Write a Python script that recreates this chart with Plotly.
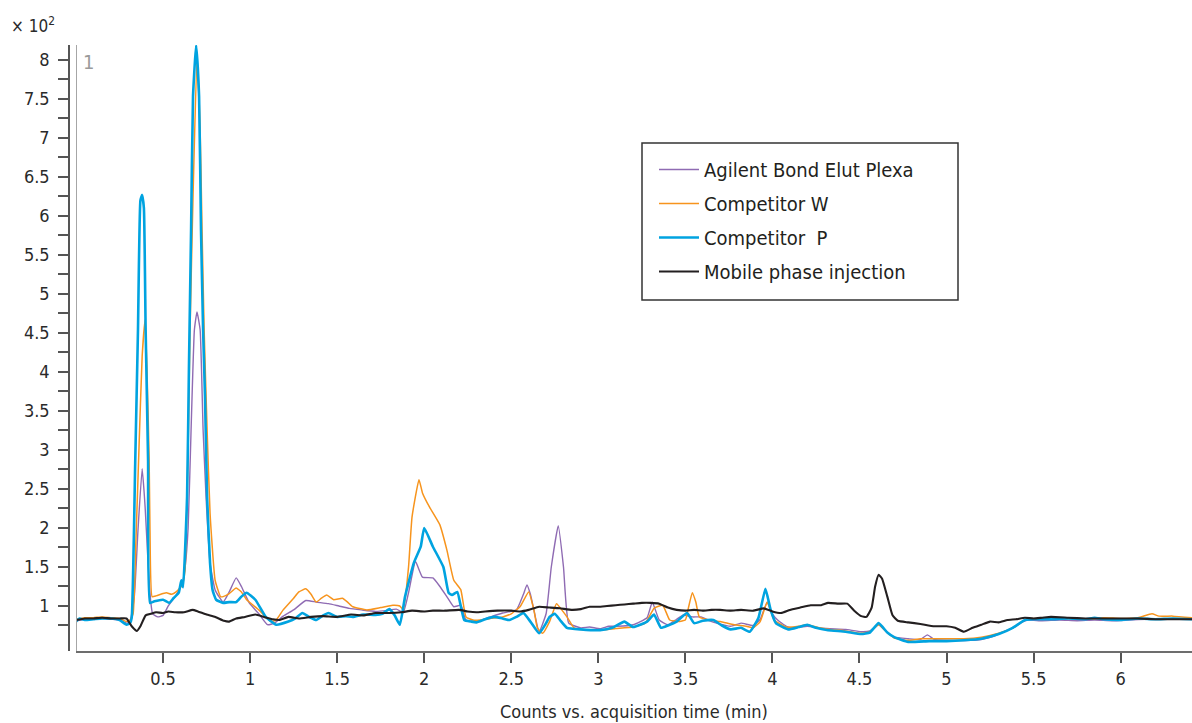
import plotly.graph_objects as go

# Retention time (min) and response (x10^2 counts) for each extract
t_plexa = [0.00, 0.05, 0.10, 0.15, 0.20, 0.25, 0.29, 0.31, 0.335, 0.356, 0.38, 0.397, 0.414, 0.43, 0.44, 0.47,
           0.50, 0.53, 0.575, 0.61, 0.627, 0.644, 0.661, 0.68, 0.695, 0.713, 0.73, 0.747, 0.77, 0.80, 0.845,
           0.88, 0.92, 0.95, 0.995, 1.05, 1.10, 1.14, 1.19, 1.25, 1.32, 1.38, 1.45, 1.51, 1.57, 1.64, 1.72,
           1.78, 1.84, 1.88, 1.91, 1.95, 1.99, 2.05, 2.09, 2.13, 2.17, 2.21, 2.24, 2.30, 2.38, 2.45, 2.53,
           2.57, 2.59, 2.61, 2.63, 2.66, 2.70, 2.73, 2.77, 2.80, 2.83, 2.90, 2.95, 3.01, 3.06, 3.11, 3.20,
           3.28, 3.31, 3.35, 3.40, 3.45, 3.49, 3.54, 3.59, 3.64, 3.68, 3.76, 3.82, 3.89, 3.93, 3.97, 4.00,
           4.03, 4.08, 4.12, 4.20, 4.27, 4.33, 4.42, 4.51, 4.56, 4.61, 4.66, 4.70, 4.78, 4.85, 4.89, 4.93,
           5.00, 5.14, 5.20, 5.27, 5.33, 5.39, 5.44, 5.47, 5.55, 5.65, 5.75, 5.85, 5.95, 6.05, 6.15, 6.25,
           6.35, 6.41]
y_plexa = [0.81, 0.83, 0.84, 0.84, 0.83, 0.82, 0.78, 0.80, 1.12, 1.97, 2.76, 2.27, 1.55, 1.04, 0.90, 0.86,
           0.88, 1.00, 1.14, 1.29, 1.50, 2.00, 3.26, 4.54, 4.77, 4.54, 3.26, 2.40, 1.55, 1.20, 1.05,
           1.18, 1.36, 1.25, 1.04, 0.90, 0.76, 0.78, 0.87, 0.95, 1.07, 1.05, 1.03, 1.00, 0.97, 0.95, 0.93,
           0.94, 0.96, 0.92, 1.17, 1.57, 1.37, 1.36, 1.25, 1.12, 0.99, 1.01, 0.82, 0.80, 0.86, 0.91, 0.95,
           1.15, 1.27, 1.15, 0.95, 0.67, 0.90, 1.50, 2.03, 1.50, 0.78, 0.72, 0.73, 0.71, 0.74, 0.74, 0.76,
           0.85, 1.05, 0.82, 0.76, 0.83, 0.885, 0.86, 0.86, 0.81, 0.78, 0.74, 0.78, 0.75, 0.83, 1.05, 0.90,
           0.82, 0.74, 0.72, 0.74, 0.72, 0.71, 0.70, 0.67, 0.68, 0.76, 0.66, 0.60, 0.58, 0.57, 0.63, 0.57,
           0.56, 0.56, 0.57, 0.61, 0.67, 0.73, 0.80, 0.82, 0.81, 0.82, 0.81, 0.82, 0.81, 0.82, 0.83, 0.83,
           0.83, 0.84]

t_compw = [0.00, 0.05, 0.10, 0.15, 0.20, 0.25, 0.29, 0.31, 0.328, 0.345, 0.362, 0.38, 0.397, 0.408, 0.42,
           0.425, 0.437, 0.46, 0.50, 0.52, 0.55, 0.575, 0.61, 0.626, 0.644, 0.655, 0.672, 0.695, 0.713,
           0.724, 0.736, 0.753, 0.77, 0.799, 0.83, 0.845, 0.88, 0.92, 0.95, 0.98, 1.05, 1.12, 1.15, 1.19,
           1.25, 1.28, 1.32, 1.35, 1.38, 1.41, 1.44, 1.48, 1.53, 1.56, 1.59, 1.67, 1.75, 1.82, 1.86, 1.88,
           1.91, 1.93, 1.97, 1.99, 2.03, 2.09, 2.13, 2.17, 2.21, 2.24, 2.28, 2.32, 2.38, 2.45, 2.50, 2.55,
           2.60, 2.63, 2.65, 2.68, 2.72, 2.76, 2.79, 2.82, 2.86, 2.90, 3.01, 3.10, 3.20, 3.27, 3.32, 3.37,
           3.41, 3.46, 3.50, 3.52, 3.54, 3.56, 3.58, 3.64, 3.70, 3.78, 3.85, 3.89, 3.93, 3.97, 4.01, 4.08,
           4.15, 4.20, 4.27, 4.33, 4.42, 4.51, 4.56, 4.61, 4.66, 4.70, 4.78, 4.85, 4.95, 5.10, 5.20, 5.30,
           5.38, 5.45, 5.50, 5.60, 5.70, 5.80, 5.90, 6.00, 6.10, 6.18, 6.22, 6.30, 6.41]
y_compw = [0.83, 0.85, 0.85, 0.86, 0.85, 0.84, 0.80, 0.82, 0.90, 1.90, 3.04, 4.20, 4.67, 4.00, 2.90,
           1.97, 1.12, 1.13, 1.16, 1.17, 1.15, 1.18, 1.27, 1.46, 3.04, 4.54, 6.24, 8.04, 7.10,
           5.82, 4.54, 3.26, 2.19, 1.33, 1.12, 1.12, 1.16, 1.23, 1.18, 1.08, 0.95, 0.80, 0.82, 0.95,
           1.10, 1.18, 1.22, 1.15, 1.05, 1.10, 1.14, 1.08, 1.10, 1.05, 0.99, 0.95, 0.98, 1.01, 1.00, 0.95,
           1.50, 2.14, 2.62, 2.45, 2.27, 2.04, 1.72, 1.33, 1.21, 0.86, 0.82, 0.82, 0.84, 0.86, 0.90, 0.99,
           1.18, 0.95, 0.72, 0.65, 0.80, 1.03, 0.95, 0.86, 0.72, 0.70, 0.69, 0.71, 0.73, 0.78, 0.97, 1.01,
           0.82, 0.80, 0.82, 1.00, 1.17, 1.05, 0.86, 0.82, 0.80, 0.76, 0.74, 0.72, 0.80, 1.05, 0.82, 0.73,
           0.74, 0.76, 0.72, 0.70, 0.68, 0.65, 0.67, 0.76, 0.66, 0.59, 0.56, 0.58, 0.58, 0.58, 0.60, 0.65,
           0.72, 0.82, 0.84, 0.83, 0.84, 0.83, 0.85, 0.84, 0.85, 0.90, 0.87, 0.87, 0.85]

t_compp = [0.00, 0.02, 0.05, 0.10, 0.15, 0.20, 0.25, 0.29, 0.31, 0.32, 0.34, 0.356, 0.37, 0.38, 0.39, 0.40,
           0.414, 0.425, 0.45, 0.50, 0.535, 0.56, 0.59, 0.605, 0.615, 0.638, 0.649, 0.661, 0.672, 0.69,
           0.707, 0.718, 0.73, 0.741, 0.753, 0.77, 0.785, 0.805, 0.845, 0.88, 0.92, 0.95, 0.98, 1.03, 1.09,
           1.15, 1.22, 1.26, 1.30, 1.34, 1.38, 1.42, 1.45, 1.50, 1.55, 1.59, 1.65, 1.72, 1.76, 1.80, 1.83,
           1.86, 1.89, 1.94, 1.98, 2.00, 2.05, 2.11, 2.14, 2.16, 2.19, 2.23, 2.27, 2.30, 2.35, 2.40, 2.45,
           2.49, 2.53, 2.57, 2.61, 2.66, 2.70, 2.72, 2.75, 2.78, 2.82, 2.90, 3.01, 3.08, 3.15, 3.20, 3.28,
           3.32, 3.36, 3.40, 3.45, 3.51, 3.55, 3.60, 3.66, 3.71, 3.76, 3.82, 3.87, 3.92, 3.96, 3.99, 4.02,
           4.09, 4.15, 4.20, 4.25, 4.32, 4.42, 4.51, 4.56, 4.61, 4.66, 4.70, 4.78, 4.90, 5.00, 5.10, 5.20,
           5.30, 5.38, 5.45, 5.50, 5.60, 5.70, 5.80, 5.85, 5.90, 6.00, 6.10, 6.20, 6.30, 6.41]
y_compp = [0.80, 0.84, 0.82, 0.83, 0.84, 0.84, 0.82, 0.76, 0.78, 0.85, 2.83, 4.54, 6.20, 6.27, 6.10, 4.54,
           2.87, 1.04, 1.06, 1.08, 1.04, 1.10, 1.17, 1.33, 1.24, 2.40, 4.10, 5.82, 7.53, 8.19,
           7.53, 5.82, 4.54, 3.68, 2.40, 1.55, 1.20, 1.08, 1.04, 1.05, 1.05, 1.12, 1.17, 1.08, 0.86,
           0.76, 0.80, 0.84, 0.91, 0.86, 0.82, 0.88, 0.91, 0.86, 0.87, 0.86, 0.89, 0.885, 0.90, 0.96, 0.88,
           0.76, 1.12, 1.55, 1.76, 2.00, 1.76, 1.50, 1.17, 1.14, 1.18, 0.82, 0.80, 0.79, 0.83, 0.86, 0.84,
           0.82, 0.86, 0.91, 0.80, 0.65, 0.78, 0.86, 0.90, 0.82, 0.72, 0.70, 0.69, 0.72, 0.80, 0.73, 0.80,
           0.89, 0.72, 0.75, 0.80, 0.91, 0.78, 0.81, 0.82, 0.75, 0.70, 0.72, 0.67, 0.85, 1.22, 0.95, 0.78,
           0.70, 0.73, 0.76, 0.72, 0.69, 0.67, 0.64, 0.66, 0.78, 0.66, 0.60, 0.54, 0.55, 0.55, 0.56, 0.58,
           0.64, 0.72, 0.82, 0.83, 0.83, 0.84, 0.83, 0.85, 0.83, 0.82, 0.84, 0.83, 0.84, 0.83]

t_mobile = [0.00, 0.05, 0.10, 0.15, 0.20, 0.25, 0.29, 0.32, 0.35, 0.37, 0.40, 0.43, 0.46, 0.50, 0.53, 0.57,
            0.62, 0.67, 0.70, 0.75, 0.80, 0.85, 0.88, 0.92, 0.97, 1.03, 1.08, 1.13, 1.17, 1.22, 1.28, 1.35,
            1.42, 1.50, 1.58, 1.65, 1.72, 1.80, 1.87, 1.93, 2.00, 2.05, 2.12, 2.20, 2.25, 2.30, 2.35, 2.42,
            2.50, 2.55, 2.60, 2.66, 2.72, 2.78, 2.85, 2.90, 2.95, 3.00, 3.05, 3.10, 3.15, 3.20, 3.25, 3.30,
            3.35, 3.40, 3.45, 3.50, 3.55, 3.60, 3.65, 3.70, 3.76, 3.82, 3.89, 3.95, 4.00, 4.05, 4.10, 4.16,
            4.22, 4.28, 4.32, 4.38, 4.43, 4.47, 4.51, 4.54, 4.57, 4.59, 4.61, 4.63, 4.66, 4.69, 4.72, 4.78,
            4.85, 4.93, 5.00, 5.05, 5.10, 5.15, 5.20, 5.25, 5.30, 5.35, 5.40, 5.45, 5.50, 5.55, 5.60, 5.70,
            5.80, 5.90, 6.00, 6.10, 6.20, 6.30, 6.41]
y_mobile = [0.82, 0.84, 0.84, 0.85, 0.84, 0.84, 0.84, 0.74, 0.68, 0.74, 0.88, 0.90, 0.92, 0.91, 0.93, 0.92,
            0.92, 0.95, 0.93, 0.89, 0.86, 0.81, 0.80, 0.84, 0.86, 0.89, 0.86, 0.83, 0.82, 0.86, 0.84, 0.86,
            0.87, 0.86, 0.89, 0.88, 0.91, 0.91, 0.92, 0.94, 0.93, 0.94, 0.94, 0.95, 0.93, 0.92, 0.93, 0.94,
            0.94, 0.93, 0.95, 0.99, 0.98, 0.97, 0.95, 0.96, 0.99, 0.99, 1.00, 1.01, 1.02, 1.03, 1.04, 1.04,
            1.03, 0.98, 0.95, 0.94, 0.95, 0.94, 0.95, 0.95, 0.94, 0.95, 0.94, 0.97, 0.93, 0.91, 0.95, 0.98,
            1.01, 1.01, 1.04, 1.03, 1.03, 0.94, 0.87, 0.86, 0.98, 1.25, 1.40, 1.35, 1.12, 0.88, 0.81, 0.79,
            0.77, 0.74, 0.74, 0.72, 0.67, 0.72, 0.76, 0.80, 0.79, 0.82, 0.83, 0.85, 0.84, 0.85, 0.86, 0.85,
            0.84, 0.84, 0.84, 0.84, 0.83, 0.83, 0.83]

series_names = ["Agilent Bond Elut Plexa", "Competitor W", "Competitor  P", "Mobile phase injection"]
series_colors = ["#8f6bb3", "#f7941d", "#00a3e0", "#231f20"]
series_widths = [1.4, 1.5, 2.6, 2.1]

y_major = [1, 1.5, 2, 2.5, 3, 3.5, 4, 4.5, 5, 5.5, 6, 6.5, 7, 7.5, 8]
y_major_text = ["1", "1.5", "2", "2.5", "3", "3.5", "4", "4.5", "5", "5.5", "6", "6.5", "7", "7.5", "8"]
y_minor = [0.75, 1.25, 1.75, 2.25, 2.75, 3.25, 3.75, 4.25, 4.75, 5.25, 5.75, 6.25, 6.75, 7.25, 7.75]
x_major = [0.5, 1, 1.5, 2, 2.5, 3, 3.5, 4, 4.5, 5, 5.5, 6]
x_major_text = ["0.5", "1", "1.5", "2", "2.5", "3", "3.5", "4", "4.5", "5", "5.5", "6"]

FONT = "DejaVu Sans Condensed, Liberation Sans Narrow, Arial Narrow, sans-serif"
TEXT_COLOR = "#2a2a2a"

fig = go.Figure()
data = [(t_plexa, y_plexa), (t_compw, y_compw), (t_compp, y_compp), (t_mobile, y_mobile)]
for i, (tx, vy) in enumerate(data):
    fig.add_trace(go.Scatter(
        x=tx, y=vy, mode="lines", name=series_names[i],
        legendgroup=f"g{i}",
        line=dict(color=series_colors[i], width=series_widths[i], shape="spline", smoothing=0.4),
    ))

W, H = 1192, 723
ML, MR, MT, MB = 69, 0, 45, 72
plot_w = W - ML - MR
plot_h = H - MT - MB


def px_x(px):
    """Canvas pixel column -> paper fraction."""
    return (px - ML) / plot_w


def px_y(px):
    """Canvas pixel row -> paper fraction."""
    return (H - MB - px) / plot_h


fig.update_layout(
    width=W, height=H,
    margin=dict(l=ML, r=MR, t=MT, b=MB),
    plot_bgcolor="white", paper_bgcolor="white",
    font=dict(family=FONT, size=18, color=TEXT_COLOR),
    showlegend=True,
    legend=dict(
        x=px_x(654), y=px_y(150),
        xanchor="left", yanchor="top",
        bgcolor="rgba(255,255,255,0)", borderwidth=0,
        font=dict(family=FONT, size=20, color="#231f20"),
        tracegroupgap=5, itemwidth=40,
    ),
    xaxis=dict(
        domain=[px_x(76), 1], range=[0, 6.41],
        tickmode="array", tickvals=x_major, ticktext=x_major_text,
        ticks="outside", ticklen=10, tickwidth=1.5, tickcolor="#555555",
        showline=True, linecolor="#6d6d6d", linewidth=2,
        showgrid=False, zeroline=False,
        tickfont=dict(size=18, color=TEXT_COLOR),
        title=dict(text="Counts vs. acquisition time (min)", font=dict(size=18, color=TEXT_COLOR), standoff=18),
    ),
    yaxis=dict(
        anchor="free", position=0,
        range=[0.423, 8.192],
        tickmode="array", tickvals=y_major, ticktext=y_major_text,
        ticks="outside", ticklen=10, tickwidth=1.5, tickcolor="#555555",
        ticklabelstandoff=5,
        minor=dict(tickmode="array", tickvals=y_minor, ticks="outside", ticklen=10,
                   tickwidth=1.5, tickcolor="#555555", showgrid=False),
        showline=True, linecolor="#555555", linewidth=1.5,
        showgrid=False, zeroline=False,
        tickfont=dict(size=18, color=TEXT_COLOR),
    ),
    shapes=[
        dict(type="line", xref="x", yref="paper", x0=0, x1=0, y0=0, y1=1,
             line=dict(color="#a6a6a6", width=2)),
        dict(type="rect", xref="paper", yref="paper",
             x0=px_x(642), x1=px_x(958), y0=px_y(300), y1=px_y(143),
             line=dict(color="#333333", width=1.5), layer="above"),
    ],
    annotations=[
        dict(text="× 10<sup>2</sup>", xref="paper", yref="paper", x=px_x(9),
             y=px_y(25), xanchor="left", yanchor="middle", showarrow=False,
             font=dict(size=17, color=TEXT_COLOR)),
        dict(text="1", xref="paper", yref="paper", x=px_x(81), y=px_y(62),
             xanchor="left", yanchor="middle", showarrow=False,
             font=dict(size=20, color="#9a9a9a")),
    ],
)

fig.write_html("out.html")
